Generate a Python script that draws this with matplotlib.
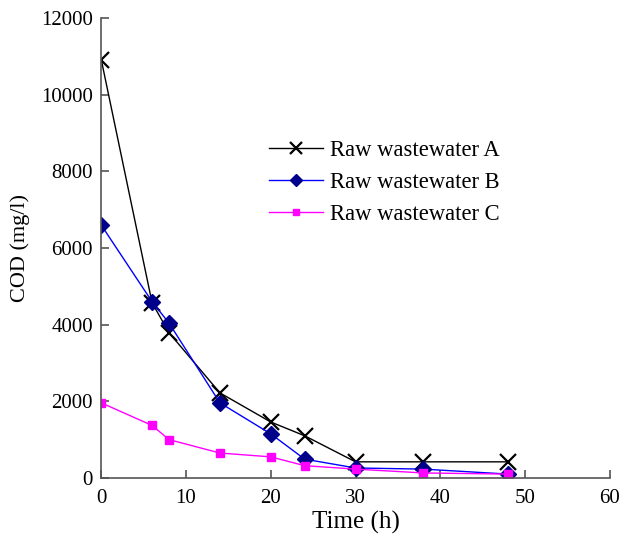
import matplotlib
matplotlib.use("Agg")
import matplotlib.pyplot as plt

plt.rcParams['font.family'] = ['Liberation Serif', 'DejaVu Serif']

time = [0, 6, 8, 14, 20, 24, 30, 38, 48]
cod_a = [10920, 4570, 3790, 2220, 1460, 1100, 420, 420, 420]
cod_b = [6600, 4600, 4040, 1960, 1150, 490, 260, 230, 100]
cod_c = [1960, 1370, 1000, 650, 550, 320, 230, 130, 100]
labels = ['Raw wastewater A', 'Raw wastewater B', 'Raw wastewater C']

fig = plt.figure(figsize=(6.21, 5.34), dpi=100)
ax = fig.add_axes([0.163, 0.105, 0.819, 0.861])

ax.plot(time, cod_a, color='black', lw=1.0, marker='x', ms=11, mew=1.6,
        label=labels[0])
ax.plot(time, cod_b, color='#0000ff', lw=1.0, marker='D', ms=8,
        mfc='#00008b', mec='#00008b', label=labels[1])
ax.plot(time, cod_c, color='#ff00ff', lw=1.0, marker='s', ms=6,
        mfc='#ff00ff', mec='#ff00ff', label=labels[2])

ax.set_xlim(0, 60)
ax.set_ylim(0, 12000)
ax.set_xticks(range(0, 61, 10))
ax.set_yticks(range(0, 12001, 2000))
ax.spines['top'].set_visible(False)
ax.spines['right'].set_visible(False)
for s in ('left', 'bottom'):
    ax.spines[s].set_color('#555555')
    ax.spines[s].set_linewidth(1.2)
ax.tick_params(direction='in', length=6, width=1.2, color='#555555',
               labelsize=15, pad=6)
ax.tick_params(axis='x', pad=8)
ax.set_xlabel('Time (h)', fontsize=18, labelpad=2)
ax.set_ylabel('COD (mg/l)', fontsize=16, labelpad=8)

ax.legend(loc='upper left', bbox_to_anchor=(0.289, 0.78), frameon=False,
          fontsize=16.3, handlelength=2.4, labelspacing=0.5,
          handletextpad=0.3, markerscale=0.75)

fig.savefig('out.png', dpi=100)
